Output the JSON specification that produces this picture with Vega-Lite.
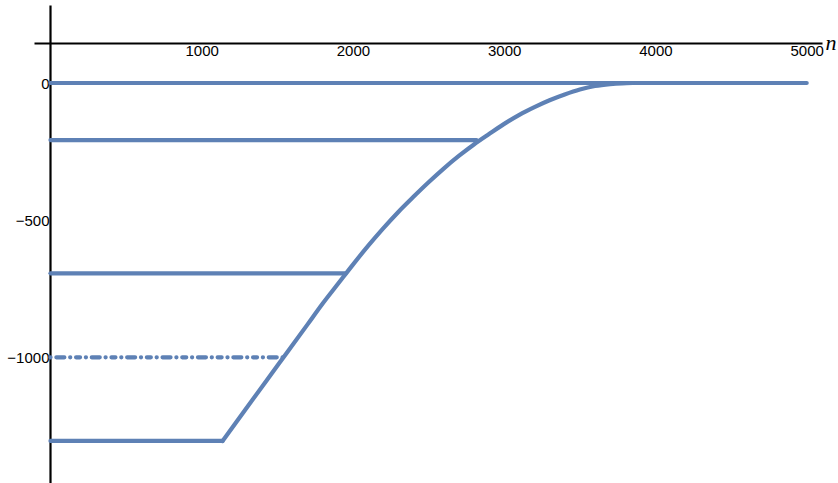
{
  "$schema": "https://vega.github.io/schema/vega-lite/v6.json",
  "width": 788,
  "height": 478,
  "autosize": {"type": "none"},
  "padding": {"left": 34, "top": 5, "right": 16, "bottom": 0},
  "background": "white",
  "config": {
    "view": {"stroke": null},
    "axis": {
      "labelFont": "Liberation Sans",
      "labelFontSize": 15,
      "labelColor": "black",
      "grid": false,
      "ticks": false,
      "domainColor": "black",
      "domainWidth": 2.2,
      "zindex": 1,
      "labelFlush": false,
      "labelOverlap": false,
      "labelBound": false
    }
  },
  "data": {
    "values": [
      {"curve": "level_0", "n": 0, "v": 0},
      {"curve": "level_0", "n": 5000, "v": 0},
      {"curve": "level_208", "n": 0, "v": -208},
      {"curve": "level_208", "n": 2817, "v": -208},
      {"curve": "level_694", "n": 0, "v": -694},
      {"curve": "level_694", "n": 1951, "v": -694},
      {"curve": "level_1000", "n": 0, "v": -1000},
      {"curve": "level_1000", "n": 1541, "v": -1000},
      {"curve": "floor", "n": 0, "v": -1305},
      {"curve": "floor", "n": 1138, "v": -1305},
      {"curve": "trajectory", "n": 1138, "v": -1305},
      {"curve": "trajectory", "n": 1300, "v": -1182},
      {"curve": "trajectory", "n": 1500, "v": -1031},
      {"curve": "trajectory", "n": 1700, "v": -880},
      {"curve": "trajectory", "n": 1800, "v": -804},
      {"curve": "trajectory", "n": 1900, "v": -733},
      {"curve": "trajectory", "n": 2000, "v": -662},
      {"curve": "trajectory", "n": 2100, "v": -594},
      {"curve": "trajectory", "n": 2200, "v": -530},
      {"curve": "trajectory", "n": 2300, "v": -470},
      {"curve": "trajectory", "n": 2400, "v": -415},
      {"curve": "trajectory", "n": 2500, "v": -362},
      {"curve": "trajectory", "n": 2600, "v": -312},
      {"curve": "trajectory", "n": 2700, "v": -266},
      {"curve": "trajectory", "n": 2800, "v": -224},
      {"curve": "trajectory", "n": 2900, "v": -186},
      {"curve": "trajectory", "n": 3000, "v": -149},
      {"curve": "trajectory", "n": 3100, "v": -116},
      {"curve": "trajectory", "n": 3200, "v": -88},
      {"curve": "trajectory", "n": 3300, "v": -63},
      {"curve": "trajectory", "n": 3400, "v": -42},
      {"curve": "trajectory", "n": 3500, "v": -24},
      {"curve": "trajectory", "n": 3600, "v": -11},
      {"curve": "trajectory", "n": 3700, "v": -4},
      {"curve": "trajectory", "n": 3780, "v": -1},
      {"curve": "trajectory", "n": 3850, "v": 0}
    ]
  },
  "encoding": {
    "x": {
      "field": "n",
      "type": "quantitative",
      "scale": {"domain": [-108.8, 5101.2], "nice": false, "zero": false},
      "axis": {
        "orient": "bottom",
        "offset": -440,
        "values": [1000, 2000, 3000, 4000, 5000],
        "format": "d",
        "labelPadding": 0,
        "title": "n",
        "titleFont": "Liberation Serif",
        "titleFontStyle": "italic",
        "titleFontWeight": "normal",
        "titleFontSize": 22,
        "titleColor": "black",
        "titleX": 791,
        "titleY": 6,
        "titleAlign": "left",
        "titleBaseline": "alphabetic",
        "titleAngle": 0
      }
    },
    "y": {
      "field": "v",
      "type": "quantitative",
      "scale": {"domain": [-1458.3, 284.4], "nice": false, "zero": false},
      "axis": {
        "orient": "left",
        "offset": -16,
        "values": [0, -500, -1000],
        "format": "d",
        "labelPadding": 1,
        "title": null
      }
    },
    "detail": {"field": "curve", "type": "nominal"}
  },
  "layer": [
    {
      "transform": [{"filter": "datum.curve !== 'level_1000'"}],
      "mark": {
        "type": "line",
        "color": "#5E81B5",
        "strokeWidth": 4.2,
        "strokeCap": "round",
        "strokeJoin": "round",
        "interpolate": "monotone"
      }
    },
    {
      "transform": [{"filter": "datum.curve === 'level_1000'"}],
      "mark": {
        "type": "line",
        "color": "#5E81B5",
        "strokeWidth": 4.2,
        "strokeCap": "round",
        "strokeDash": [0.1, 5.8, 8, 5.8, 0.1, 5.8, 4, 5.8]
      }
    }
  ]
}
